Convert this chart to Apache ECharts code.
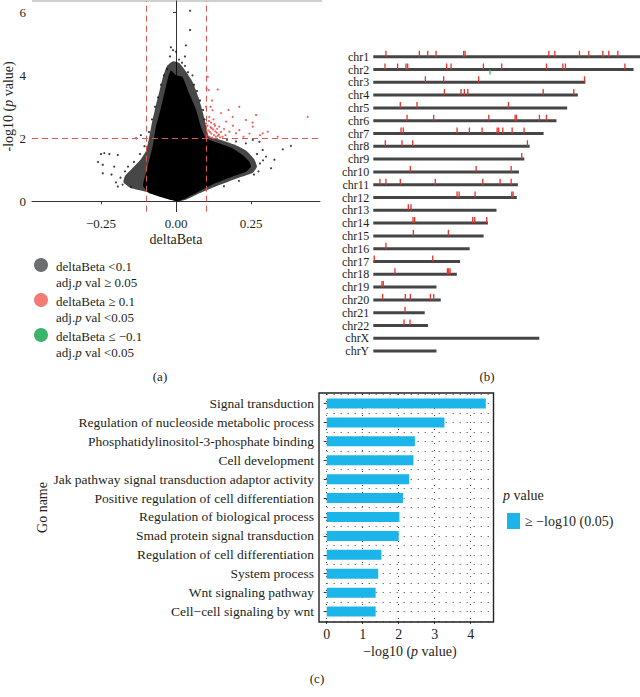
<!DOCTYPE html>
<html><head><meta charset="utf-8">
<script src="https://cdn.jsdelivr.net/npm/echarts@6/dist/echarts.min.js"></script>
<style>html,body{margin:0;padding:0;background:#fff}#c{width:640px;height:697px}</style>
</head><body><div id="c"></div>
<script>
const FONT = '"Liberation Serif", "DejaVu Serif", serif';
const TXT = '#231f20';

// ---------- Panel (a): volcano ----------
const volcanoXTicks = [-0.25, 0, 0.25];
const volcanoYTicks = [0, 2, 4, 6];
const deltaBetaCut = [-0.1, 0.1];
const log10PCut = 2;
// outer (fuzzy) extent of the dense cloud
const cloudOuterX = [0.002,-0.1,-0.15,-0.175,-0.17,-0.15,-0.12,-0.1,-0.09,-0.08,-0.068,-0.055,-0.042,-0.03,-0.01,0.01,0.035,0.055,0.075,0.09,0.1,0.11,0.15,0.195,0.235,0.26,0.27,0.255,0.2,0.14,0.08,0.035];
const cloudOuterY = [0,0.3,0.42,0.6,0.8,1.0,1.3,1.6,2.0,2.5,3.0,3.5,4.0,4.3,4.45,4.4,4.1,3.8,3.3,2.8,2.4,2.05,1.95,1.8,1.6,1.35,1.1,0.9,0.72,0.5,0.26,0.06];
// solid core of the dense cloud
const cloudCoreX = [0.002,-0.09,-0.11,-0.1,-0.089,-0.078,-0.067,-0.052,-0.039,-0.026,-0.017,0.0,0.022,0.044,0.067,0.083,0.1,0.144,0.189,0.222,0.244,0.25,0.233,0.189,0.133,0.078,0.033];
const cloudCoreY = [0,0.26,0.5,0.9,1.31,1.73,2.37,2.9,3.42,3.94,4.15,4.0,3.94,3.42,2.9,2.37,2.0,1.84,1.68,1.47,1.26,1.1,0.94,0.79,0.58,0.32,0.1];
// sparse points outside the dense cloud
const sparseX = [-0.25,-0.239,-0.222,-0.194,-0.244,-0.206,-0.244,-0.194,-0.178,-0.133,-0.117,-0.2,-0.185,-0.17,-0.16,-0.15,-0.14,-0.12,-0.105,-0.09,-0.08,-0.07,-0.06,-0.05,-0.04,-0.03,-0.02,-0.017,0.033,0.047,0.047,0.0,0.01,0.02,0.03,0.04,0.055,0.06,0.07,0.08,0.09,0.095,0.383,0.356,0.328,0.317,0.3,0.289,0.278,0.256,0.233,0.27,0.28,0.275,0.26,0.21,0.16,-0.26,-0.215,0.03,-0.01,0.2,0.17,0.29];
const sparseY = [1.5,1.53,1.5,1.47,1.16,1.1,0.89,0.47,0.53,2.0,2.1,0.6,0.75,0.95,1.1,0.45,1.25,1.5,1.75,2.2,2.6,3.0,3.3,3.7,4.0,4.2,4.6,4.89,4.95,6.05,5.44,4.75,4.5,4.4,4.3,4.1,4.0,3.7,3.5,3.2,2.9,2.6,1.76,1.65,1.32,1.05,1.42,1.63,1.89,1.95,1.84,1.5,1.2,0.95,0.85,0.65,0.48,1.25,0.85,4.6,4.8,1.9,1.95,1.3];
// significant hypermethylated points (red)
const redX = [0.106,0.102,0.109,0.139,0.1,0.122,0.189,0.211,0.167,0.233,0.267,0.211,0.256,0.289,0.306,0.339,0.439,0.144,0.178,0.2,0.111,0.1,0.103,0.108,0.112,0.115,0.118,0.121,0.124,0.127,0.13,0.133,0.136,0.14,0.143,0.147,0.105,0.11,0.117,0.125,0.15,0.155,0.16,0.165,0.104,0.113,0.119,0.131,0.137,0.128,0.12,0.115,0.15,0.175,0.19,0.225,0.245,0.255,0.28];
const redY = [3.95,3.58,3.53,3.55,3.0,2.89,2.68,3.0,2.53,2.58,2.74,2.26,2.37,2.16,2.21,2.05,2.68,2.37,2.21,2.16,2.68,2.47,2.1,2.25,2.05,2.35,2.15,2.02,2.28,2.1,2.4,2.05,2.18,2.08,2.12,2.03,2.4,2.55,2.5,2.6,2.2,2.05,2.3,2.1,2.15,2.2,2.32,2.22,2.3,2.45,3.2,3.0,2.8,2.9,2.4,2.05,2.15,2.5,2.1];
const legendColors = ['#6d6e70', '#f27c74', '#3db46b'];
const legendLine1 = ['deltaBeta <0.1', 'deltaBeta \u2265 0.1', 'deltaBeta \u2264 \u22120.1'];
const legendLine2 = ['adj.{i|p} val \u2265 0.05', 'adj.{i|p} val <0.05', 'adj.{i|p} val <0.05'];

// ---------- Panel (b): chromosome map ----------
const chromNames = ['chr1','chr2','chr3','chr4','chr5','chr6','chr7','chr8','chr9','chr10','chr11','chr12','chr13','chr14','chr15','chr16','chr17','chr18','chr19','chr20','chr21','chr22','chrX','chrY'];
const chromLengths = [249,243,198,191,181,171,159,146,141,136,135,134,115,107,103,90,81,78,59,63,48,51,155,59];
const hitChrom = [0,0,0,0,0,0,0,0,0,0,0,0,0, 1,1,1,1,1,1,1,1,1,1,1,1, 2,2,2,2, 3,3,3,3,3,3, 4,4,4, 5,5,5,5,5,5,5, 6,6,6,6,6,6,6,6,6,6, 7,7,7,7, 8, 9,9,9, 10,10,10,10,10,10,10, 11,11,11,11,11, 12,12, 13,13,13,13,13, 14,14, 15, 16,16, 17,17,17,17, 18,18, 19,19,19,19,19, 20, 21,21];
const hitPos = [11.8,43,50.8,58.6,84.4,85.7,163.9,169.5,192.5,201.2,214.3,219.9,228.3, 10.9,22.7,30.5,32.1,68.5,72.6,102.8,119.9,161.7,177,179.4,234.9, 48.6,65.7,98.4,197.2, 66.4,81.9,85,88.2,158.6,187.2, 25.2,40.8,126.2, 31.5,56.4,107.8,132.4,133.6,155.1,161.7, 25.9,28,78.2,89.7,101.6,115.6,117.1,120.9,129.6,140.8, 11.2,26.8,36.8,143.9, 138.6, 34.6,96,128.7, 6.2,11.8,25.2,57.9,102.2,118.4,128.7, 78.2,80.1,95,129.3,130.5, 32.7,35.2, 37.1,38.6,92.8,94.7,105.9, 37.4,70.1, 11.8, 0.9,55.5, 20.2,69.2,70.4,71.7, 8.1,9.3, 8.7,29.9,34.6,53.3,56.4, 29.6, 28.7,34.3];
const hypoChrom = [1];
const hypoPos = [109];

// ---------- Panel (c): GO enrichment ----------
const goNames = ['Signal transduction','Regulation of nucleoside metabolic process','Phosphatidylinositol-3-phosphate binding','Cell development','Jak pathway signal transduction adaptor activity','Positive regulation of cell differentiation','Regulation of biological process','Smad protein signal transduction','Regulation of cell differentiation','System process','Wnt signaling pathway','Cell\u2212cell signaling by wnt'];
const goValues = [4.42,3.27,2.45,2.41,2.29,2.12,2.02,2.0,1.52,1.43,1.36,1.36];
const goTicks = [0,1,2,3,4];
const goLegend = '\u2265 \u2212log10 (0.05)';

const chart = echarts.init(document.getElementById('c'), null, {renderer: 'svg'});
const dotted = {type: [1, 6], color: '#444', width: 1};
const fmtMinus = v => String(v === 0 ? '0.00' : v.toFixed(2)).replace('-', '\u2212');

function polygonSeries(xs, ys, fill) {
  return {
    type: 'custom', xAxisIndex: 0, yAxisIndex: 0, silent: true, z: 2,
    data: [[xs[0], ys[0]]],
    renderItem: (params, api) => ({
      type: 'polygon',
      shape: {points: xs.map((x, i) => api.coord([x, ys[i]])), smooth: 0.15},
      style: {fill: fill}
    })
  };
}

const option = {
  animation: false,
  textStyle: {fontFamily: FONT, color: TXT},
  grid: [
    {left: 32, top: 1, width: 288, height: 210.7},
    {left: 373.3, top: 50.3, width: 266.7, height: 307.2},
    {left: 326.7, top: 394, width: 166.3, height: 227}
  ],
  xAxis: [
    {gridIndex: 0, type: 'value', min: -0.48, max: 0.48,
     name: 'deltaBeta', nameLocation: 'middle', nameGap: 21,
     nameTextStyle: {fontFamily: FONT, fontSize: 14, color: TXT},
     axisLine: {lineStyle: {color: '#333'}},
     axisTick: {show: true, length: 3, customValues: volcanoXTicks, lineStyle: {color: '#333'}},
     axisLabel: {customValues: volcanoXTicks, formatter: fmtMinus, fontFamily: FONT, fontSize: 13, color: TXT, margin: 5},
     splitLine: {show: false}},
    {gridIndex: 1, type: 'value', min: 0, max: 249, show: false},
    {gridIndex: 2, type: 'value', min: 0, max: 4.62, interval: 0.5,
     name: '\u2212log10 ({i|p} value)', nameLocation: 'middle', nameGap: 23,
     nameTextStyle: {fontFamily: FONT, fontSize: 14, color: TXT, rich: {i: {fontStyle: 'italic', fontFamily: FONT, fontSize: 14, color: TXT}}},
     axisLine: {show: false},
     axisTick: {show: true, length: 3, customValues: goTicks, lineStyle: {color: '#333'}},
     axisLabel: {customValues: goTicks, fontFamily: FONT, fontSize: 14, color: TXT, margin: 6},
     splitLine: {show: true, lineStyle: dotted}}
  ],
  yAxis: [
    {gridIndex: 0, type: 'value', min: -0.33, max: 6.36,
     name: '-log10 ({i|p} value)', nameLocation: 'middle', nameGap: 15,
     nameTextStyle: {fontFamily: FONT, fontSize: 14, color: TXT, rich: {i: {fontStyle: 'italic', fontFamily: FONT, fontSize: 14, color: TXT}}},
     axisLine: {show: true, lineStyle: {color: '#333'}},
     axisTick: {show: true, length: 3, customValues: volcanoYTicks, lineStyle: {color: '#333'}},
     axisLabel: {customValues: volcanoYTicks, fontFamily: FONT, fontSize: 13, color: TXT, margin: 6},
     splitLine: {show: false}},
    {gridIndex: 1, type: 'category', data: chromNames, inverse: true,
     axisLine: {show: false}, axisTick: {show: false},
     axisLabel: {interval: 0, fontFamily: FONT, fontSize: 12, lineHeight: 12, color: TXT, margin: 4}},
    {gridIndex: 2, type: 'category', data: goNames, inverse: true, offset: 7.7,
     name: 'Go name', nameLocation: 'middle', nameGap: 270, nameRotate: 90,
     nameTextStyle: {fontFamily: FONT, fontSize: 14, color: TXT},
     axisLine: {show: false},
     axisTick: {show: true, length: 3, alignWithLabel: true, lineStyle: {color: '#333'}},
     axisLabel: {interval: 0, fontFamily: FONT, fontSize: 13.5, color: TXT, margin: 5},
     splitLine: {show: false}},
    {gridIndex: 2, type: 'value', min: 0, max: 12, interval: 1, position: 'right',
     axisLine: {show: false}, axisTick: {show: false}, axisLabel: {show: false},
     splitLine: {show: true, lineStyle: dotted},
     minorTick: {show: false, splitNumber: 2},
     minorSplitLine: {show: true, lineStyle: dotted}}
  ],
  legend: {
    data: [goLegend], left: 502, top: 508, orient: 'vertical',
    itemWidth: 13, itemHeight: 16, icon: 'rect', itemGap: 4,
    textStyle: {fontFamily: FONT, fontSize: 14, color: TXT}
  },
  series: [
    polygonSeries(cloudOuterX, cloudOuterY, 'rgba(0,0,0,0.72)'),
    polygonSeries(cloudCoreX, cloudCoreY, '#000'),
    {type: 'scatter', xAxisIndex: 0, yAxisIndex: 0, symbolSize: 2.2, z: 3,
     itemStyle: {color: '#111'},
     data: sparseX.map((x, i) => [x, sparseY[i]])},
    {type: 'scatter', xAxisIndex: 0, yAxisIndex: 0, symbolSize: 2.2, z: 4,
     itemStyle: {color: '#ef3b36'},
     data: redX.map((x, i) => [x, redY[i]]),
     markLine: {silent: true, symbol: 'none', label: {show: false}, z: 5,
       lineStyle: {color: '#d85a55', type: [6, 4], width: 1},
       data: [{xAxis: deltaBetaCut[0]}, {xAxis: deltaBetaCut[1]}, {yAxis: log10PCut}]}},
    {type: 'bar', xAxisIndex: 1, yAxisIndex: 1, barWidth: 3, silent: true,
     itemStyle: {color: '#454545'}, data: chromLengths},
    {type: 'custom', xAxisIndex: 1, yAxisIndex: 1, silent: true, z: 3,
     data: hitPos.map((p, i) => [p, hitChrom[i]]),
     renderItem: (params, api) => {
       const p = api.coord([api.value(0), api.value(1)]);
       return {type: 'line', shape: {x1: p[0], y1: p[1] - 6, x2: p[0], y2: p[1]}, style: {stroke: '#e2332c', lineWidth: 1.3}};
     }},
    {type: 'custom', xAxisIndex: 1, yAxisIndex: 1, silent: true, z: 3,
     data: hypoPos.map((p, i) => [p, hypoChrom[i]]),
     renderItem: (params, api) => {
       const p = api.coord([api.value(0), api.value(1)]);
       return {type: 'line', shape: {x1: p[0], y1: p[1], x2: p[0], y2: p[1] + 5}, style: {stroke: '#3db46b', lineWidth: 1.3}};
     }},
    {name: goLegend, type: 'bar', xAxisIndex: 2, yAxisIndex: 2, barWidth: 10, silent: true, z: 3,
     itemStyle: {color: '#1bb5e9'}, data: goValues}
  ],
  graphic: [
    {type: 'line', shape: {x1: 32, y1: 1, x2: 322, y2: 1}, style: {stroke: '#d0d0d0', lineWidth: 2}, silent: true},
    {type: 'rect', shape: {x: 319, y: 393, width: 174.5, height: 229}, style: {fill: 'none', stroke: '#222', lineWidth: 1.4}, silent: true, z: 10},
    ...legendColors.map((c, i) => ({type: 'circle', shape: {cx: 41, cy: 265 + i * 35, r: 7}, style: {fill: c}, silent: true})),
    ...legendLine1.map((t, i) => ({type: 'text', x: 56, y: 266 + i * 35, style: {text: t, font: '13px ' + FONT, fill: TXT, verticalAlign: 'middle'}, silent: true})),
    ...legendLine2.map((t, i) => ({type: 'text', x: 56, y: 282 + i * 35, style: {text: t, font: '13px ' + FONT, fill: TXT, verticalAlign: 'middle', rich: {i: {fontStyle: 'italic', fontFamily: FONT, fontSize: 13, fill: TXT}}}, silent: true})),
    {type: 'text', x: 160, y: 376, style: {text: '(a)', font: '13px ' + FONT, fill: TXT, align: 'center', verticalAlign: 'middle'}, silent: true},
    {type: 'text', x: 487, y: 376, style: {text: '(b)', font: '13px ' + FONT, fill: TXT, align: 'center', verticalAlign: 'middle'}, silent: true},
    {type: 'text', x: 317, y: 678, style: {text: '(c)', font: '13px ' + FONT, fill: TXT, align: 'center', verticalAlign: 'middle'}, silent: true},
    {type: 'text', x: 503, y: 495, style: {text: '{i|p} value', font: '14px ' + FONT, fill: TXT, verticalAlign: 'middle', rich: {i: {fontStyle: 'italic', fontFamily: FONT, fontSize: 14, fill: TXT}}}, silent: true}
  ]
};
chart.setOption(option);
</script></body></html>
